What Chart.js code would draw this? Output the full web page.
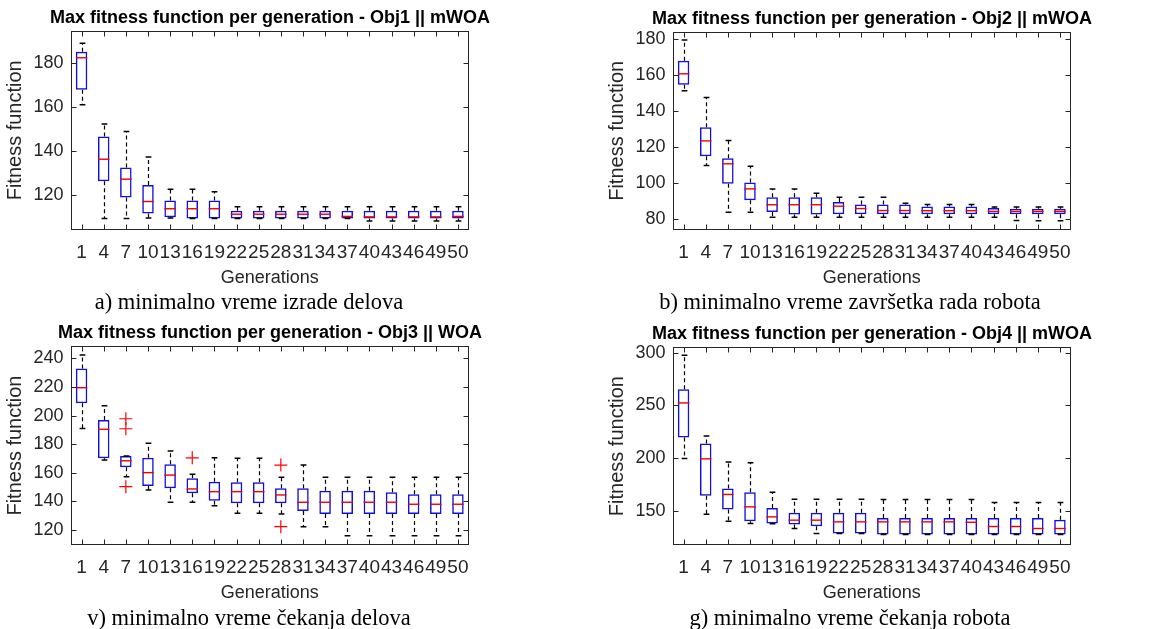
<!DOCTYPE html>
<html>
<head>
<meta charset="utf-8">
<script src="https://cdn.jsdelivr.net/npm/chart.js@4.4.1/dist/chart.umd.min.js"></script>
<style>
  body { margin: 0; background: #fff; }
  #wrap { position: relative; width: 1160px; height: 629px; overflow: hidden; background: #fff; }
  .panel { position: absolute; width: 540px; height: 292px; }
  .cap {
    position: absolute; white-space: nowrap; color: #000;
    font-family: "Liberation Serif", "Times New Roman", serif; font-size: 22.5px;
    transform: translate(-50%, -50%);
  }
</style>
</head>
<body>
<div id="wrap">
  <div class="panel" style="left:0;top:0"><canvas id="c1" width="540" height="292"></canvas></div>
  <div class="panel" style="left:602px;top:0"><canvas id="c2" width="540" height="292"></canvas></div>
  <div class="panel" style="left:0;top:315px"><canvas id="c3" width="540" height="292"></canvas></div>
  <div class="panel" style="left:602px;top:315px"><canvas id="c4" width="540" height="292"></canvas></div>
  <div class="cap" style="left:249px;top:302px">a) minimalno vreme izrade delova</div>
  <div class="cap" style="left:850px;top:302px">b) minimalno vreme završetka rada robota</div>
  <div class="cap" style="left:249px;top:618px">v) minimalno vreme čekanja delova</div>
  <div class="cap" style="left:850px;top:618px">g) minimalno vreme čekanja robota</div>
</div>
<script>
// generacije (x osa)
const generations = ["1", "4", "7", "10", "13", "16", "19", "22", "25", "28", "31", "34", "37", "40", "43", "46", "49", "50"];

// Obj1 || mWOA
const hi1  = [189.2, 152.4, 149.0, 137.3, 122.6, 122.6, 121.4, 114.6, 114.6, 114.6, 114.6, 114.6, 114.6, 114.6, 114.6, 114.6, 114.6, 114.6];
const q3_1 = [185.3, 146.7, 132.5, 124.5, 117.5, 117.5, 117.5, 112.8, 112.8, 112.8, 112.8, 112.8, 112.8, 112.8, 112.8, 112.8, 112.8, 112.8];
const med1 = [182.6, 136.3, 127.2, 117.0, 113.7, 113.7, 113.7, 111.2, 111.2, 111.2, 111.2, 111.2, 110.2, 110.0, 110.0, 110.0, 110.0, 110.2];
const q1_1 = [168.0, 126.3, 118.8, 111.5, 109.8, 109.3, 109.3, 109.3, 109.3, 109.3, 109.3, 109.3, 109.3, 109.3, 109.3, 109.3, 109.3, 109.3];
const lo1  = [161.2, 109.3, 109.3, 109.5, 109.5, 109.3, 109.3, 109.3, 109.3, 109.3, 109.3, 109.3, 109.3, 108.1, 108.1, 108.1, 108.1, 108.1];
const yTicks1 = [120, 140, 160, 180];

// Obj2 || mWOA
const hi2  = [179.4, 147.5, 123.6, 109.4, 96.8, 96.8, 94.4, 92.2, 92.2, 92.2, 88.9, 88.1, 88.1, 88.1, 86.8, 86.8, 86.8, 86.8];
const q3_2 = [167.8, 131.0, 113.8, 100.3, 92.1, 92.1, 92.1, 89.5, 88.2, 88.2, 88.2, 87.0, 87.0, 87.0, 86.2, 85.8, 85.8, 85.8];
const med2 = [160.6, 123.4, 110.7, 96.8, 88.0, 88.0, 88.0, 87.2, 85.9, 84.8, 84.8, 84.7, 84.7, 84.7, 84.3, 84.3, 84.3, 84.3];
const q1_2 = [154.5, 114.9, 99.6, 90.5, 84.0, 82.6, 82.6, 82.8, 82.8, 82.8, 82.8, 82.8, 82.8, 82.8, 82.8, 82.8, 82.8, 82.8];
const lo2  = [151.2, 109.8, 83.9, 83.9, 81.1, 81.1, 81.1, 81.1, 81.1, 81.1, 81.1, 81.1, 81.1, 81.1, 81.1, 79.3, 79.1, 79.1];
const yTicks2 = [80, 100, 120, 140, 160, 180];

// Obj3 || WOA
const hi3  = [242.3, 206.9, 171.7, 180.6, 175.2, 158.9, 170.5, 170.1, 170.1, 156.8, 165.4, 156.8, 156.8, 156.8, 156.8, 156.8, 156.8, 156.8];
const q3_3 = [233.0, 196.9, 171.7, 170.5, 165.9, 156.1, 153.8, 153.3, 153.3, 149.2, 149.2, 147.5, 147.5, 147.5, 146.4, 145.0, 145.0, 145.0];
const med3 = [219.5, 190.4, 168.4, 160.1, 158.4, 148.7, 146.8, 146.8, 146.8, 144.5, 139.4, 139.4, 139.4, 139.4, 139.4, 138.0, 138.0, 138.0];
const q1_3 = [208.6, 170.1, 163.8, 150.8, 149.2, 145.7, 140.5, 138.7, 138.7, 138.7, 133.3, 131.2, 131.2, 131.2, 131.2, 131.2, 131.2, 131.2];
const lo3  = [191.0, 168.9, 157.3, 148.0, 139.4, 139.4, 137.0, 131.7, 131.7, 131.2, 122.3, 122.3, 116.0, 116.0, 116.0, 116.0, 116.0, 116.0];
const out3 = [
  { x: "7", y: 197.8 }, { x: "7", y: 190.8 }, { x: "7", y: 150.3 },
  { x: "16", y: 170.5 }, { x: "28", y: 165.4 }, { x: "28", y: 122.3 }
];
const yTicks3 = [120, 140, 160, 180, 200, 220, 240];

// Obj4 || mWOA
const hi4  = [297.4, 221.2, 196.6, 195.7, 168.0, 161.3, 161.3, 161.3, 161.3, 161.0, 161.0, 161.0, 161.0, 161.0, 158.2, 158.2, 158.2, 158.2];
const q3_4 = [265.3, 214.0, 171.5, 168.0, 153.1, 148.4, 148.4, 148.4, 148.4, 143.5, 143.5, 143.5, 143.5, 143.5, 143.5, 143.5, 143.5, 142.0];
const med4 = [252.4, 199.5, 165.8, 154.1, 144.6, 141.5, 141.5, 139.9, 139.9, 139.9, 139.9, 139.9, 139.9, 139.5, 135.5, 135.5, 133.6, 133.6];
const q1_4 = [219.7, 164.5, 151.6, 140.5, 138.4, 137.4, 135.8, 128.9, 128.9, 128.0, 128.0, 128.0, 128.0, 128.0, 128.0, 128.0, 128.0, 128.0];
const lo4  = [199.8, 147.2, 140.5, 138.4, 138.0, 133.7, 128.9, 128.9, 128.9, 128.0, 128.0, 128.0, 128.0, 128.0, 128.0, 128.0, 128.0, 128.0];
const yTicks4 = [150, 200, 250, 300];

const FONT = "'Liberation Sans', Arial, Helvetica, sans-serif";
const AXIS_COLOR = "#262626";

// brkovi, mediana
const boxExtras = {
  id: "boxExtras",
  afterDatasetsDraw(chart) {
    const ds = chart.data.datasets[0];
    const meta = chart.getDatasetMeta(0);
    const y = chart.scales.y;
    const ctx = chart.ctx;
    ctx.save();
    meta.data.forEach((bar, i) => {
      const cx = Math.round(bar.x) + 0.5;
      const hw = bar.width / 2;
      const cw = hw * 0.5;
      const yHi = y.getPixelForValue(ds.hi[i]);
      const yQ3 = y.getPixelForValue(ds.data[i][1]);
      const yQ1 = y.getPixelForValue(ds.data[i][0]);
      const yLo = y.getPixelForValue(ds.lo[i]);
      const yMed = y.getPixelForValue(ds.med[i]);

      ctx.strokeStyle = "#000";
      ctx.lineWidth = 1.2;
      ctx.setLineDash([4, 3]);
      ctx.beginPath();
      ctx.moveTo(cx, yQ3); ctx.lineTo(cx, yHi);
      ctx.moveTo(cx, yQ1); ctx.lineTo(cx, yLo);
      ctx.stroke();

      ctx.setLineDash([]);
      ctx.lineWidth = 1.5;
      ctx.beginPath();
      ctx.moveTo(cx - cw, yHi); ctx.lineTo(cx + cw, yHi);
      ctx.moveTo(cx - cw, yLo); ctx.lineTo(cx + cw, yLo);
      ctx.stroke();

      ctx.strokeStyle = "#f00000";
      ctx.lineWidth = 1.4;
      ctx.beginPath();
      ctx.moveTo(bar.x - hw, yMed); ctx.lineTo(bar.x + hw, yMed);
      ctx.stroke();
    });
    ctx.restore();
  }
};

// okvir i unutrasnji podeoci
const frame = {
  id: "frame",
  afterDraw(chart) {
    const { ctx, chartArea: a, scales: { x, y } } = chart;
    const L = Math.round(a.left) + 0.5, R = Math.round(a.right) - 0.5;
    const T = Math.round(a.top) + 0.5, B = Math.round(a.bottom) - 0.5;
    ctx.save();
    ctx.strokeStyle = AXIS_COLOR;
    ctx.lineWidth = 1;
    ctx.strokeRect(L, T, R - L, B - T);
    ctx.beginPath();
    x.ticks.forEach((t, i) => {
      const px = Math.round(x.getPixelForTick(i)) + 0.5;
      ctx.moveTo(px, B); ctx.lineTo(px, B - 5);
      ctx.moveTo(px, T); ctx.lineTo(px, T + 5);
    });
    y.ticks.forEach((t, i) => {
      const py = Math.round(y.getPixelForTick(i)) + 0.5;
      ctx.moveTo(L, py); ctx.lineTo(L + 5, py);
      ctx.moveTo(R, py); ctx.lineTo(R - 5, py);
    });
    ctx.stroke();
    ctx.restore();
  }
};

function makeChart(id, title, q1, q3, med, lo, hi, outliers, yMin, yMax, yTicks, padTop) {
  const datasets = [{
    type: "bar",
    data: q1.map((v, i) => [v, q3[i]]),
    med: med, lo: lo, hi: hi,
    backgroundColor: "rgba(255,255,255,0)",
    borderColor: "#1010d8",
    borderWidth: 1.5,
    borderSkipped: false,
    barPercentage: 0.52,
    categoryPercentage: 1.0
  }];
  if (outliers) {
    datasets.push({
      type: "line",
      data: outliers,
      showLine: false,
      pointStyle: "cross",
      pointRadius: 6.5,
      borderColor: "#ff0000",
      borderWidth: 1.2
    });
  }
  return new Chart(document.getElementById(id), {
    type: "bar",
    data: { labels: generations, datasets: datasets },
    options: {
      responsive: false,
      animation: false,
      layout: { padding: { left: 0, right: 0, top: padTop, bottom: 0 } },
      plugins: {
        legend: { display: false },
        tooltip: { enabled: false },
        title: {
          display: true,
          text: title,
          color: "#000",
          font: { family: FONT, size: 18, weight: "bold" },
          padding: { top: 7, bottom: 2 }
        }
      },
      scales: {
        x: {
          grid: { display: false, drawTicks: false },
          border: { display: false },
          ticks: { autoSkip: false, maxRotation: 0, color: AXIS_COLOR, font: { family: FONT, size: 19 }, padding: 11 },
          title: { display: true, text: "Generations", color: AXIS_COLOR, font: { family: FONT, size: 18 }, padding: { top: 0, bottom: 3 } },
          afterFit: s => { s.height = 62; }
        },
        y: {
          min: yMin,
          max: yMax,
          grid: { display: false, drawTicks: false },
          border: { display: false },
          afterBuildTicks: s => { s.ticks = yTicks.map(v => ({ value: v })); },
          ticks: { color: AXIS_COLOR, font: { family: FONT, size: 18 }, padding: 7 },
          title: { display: true, text: "Fitness function", color: AXIS_COLOR, font: { family: FONT, size: 20 }, padding: { top: 3, bottom: 0 } },
          afterFit: s => { s.width = 70.5; }
        },
        // prazan desni prostor da naslov bude centriran iznad grafika
        yR: {
          type: "linear",
          position: "right",
          grid: { display: false, drawTicks: false },
          border: { display: false },
          ticks: { display: false },
          afterFit: s => { s.width = 71; }
        }
      }
    },
    plugins: [boxExtras, frame]
  });
}

makeChart("c1", "Max fitness function per generation - Obj1 || mWOA", q1_1, q3_1, med1, lo1, hi1, null, 104, 195, yTicks1, 0);
makeChart("c2", "Max fitness function per generation - Obj2 || mWOA", q1_2, q3_2, med2, lo2, hi2, null, 74, 184, yTicks2, 1);
makeChart("c3", "Max fitness function per generation - Obj3 || WOA", q1_3, q3_3, med3, lo3, hi3, out3, 109.5, 248.6, yTicks3, 0.5);
makeChart("c4", "Max fitness function per generation - Obj4 || mWOA", q1_4, q3_4, med4, lo4, hi4, null, 118, 305, yTicks4, 1.7);
</script>
</body>
</html>
